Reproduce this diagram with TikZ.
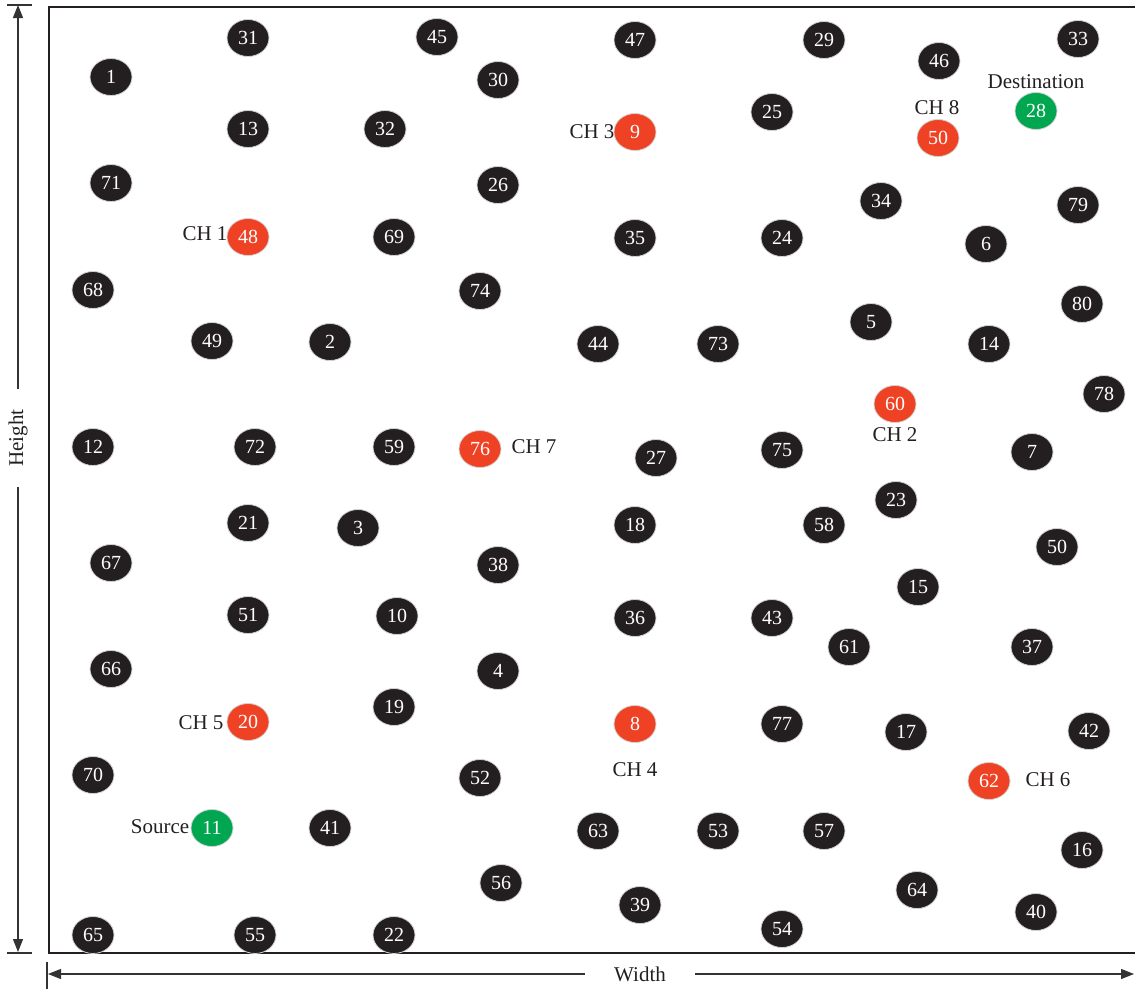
\documentclass[tikz,border=0pt]{standalone}
\usepackage{fontspec}
\setmainfont{Liberation Serif}
\usetikzlibrary{shapes.geometric,arrows.meta}
\definecolor{nblack}{HTML}{231F20}
\definecolor{nred}{HTML}{EF4123}
\definecolor{ngreen}{HTML}{00A650}
\definecolor{axis}{HTML}{333333}
\tikzset{
  nd/.style={ellipse, minimum width=42pt, minimum height=37pt, inner sep=0pt,
    draw=gray!35, line width=0.8pt, text=white, font=\fontsize{20}{23}\selectfont},
  bn/.style={nd, fill=nblack},
  rn/.style={nd, fill=nred},
  gn/.style={nd, fill=ngreen},
  lab/.style={inner sep=0pt, text=nblack, font=\fontsize{21}{24}\selectfont},
  axline/.style={draw=axis, line width=1.2pt},
  tip/.style={-{Triangle[length=13pt,width=10pt]}}
}
\begin{document}
\begin{tikzpicture}[x=1pt,y=-1pt]
\useasboundingbox (0,0) rectangle (1135,989);
% frame
\draw[line width=1.4pt, nblack] (1135,7) -- (49,7) -- (49,953) -- (1135,953);
% height axis
\coordinate (htop) at (18,5);
\coordinate (hbot) at (18,952);
\node[lab, rotate=90] (hlab) at (18,438) {Height};
\draw[axline] (7,5) -- (32,5);
\draw[axline] (7,953) -- (32,953);
\draw[axline, tip] (18,389) -- (htop);
\draw[axline, tip] (18,487) -- (hbot);
% width axis
\coordinate (wl) at (48,974);
\coordinate (wr) at (1134,974);
\node[lab] (wlab) at (640,974) {Width};
\draw[axline] (47,962) -- (47,989);
\draw[axline, tip] (585,974) -- (wl);
\draw[axline, tip] (695,974) -- (wr);
% labels
\node[lab] (l1) at (205,234) {CH 1};
\node[lab] (l2) at (895,435) {CH 2};
\node[lab] (l3) at (592,132) {CH 3};
\node[lab] (l4) at (635,770) {CH 4};
\node[lab] (l5) at (201,723) {CH 5};
\node[lab] (l6) at (1048,780) {CH 6};
\node[lab] (l7) at (534,447) {CH 7};
\node[lab] (l8) at (937,108) {CH 8};
\node[lab] (ldest) at (1036,82) {Destination};
\node[lab] (lsrc) at (160,827) {Source};
% black nodes
\foreach \n/\x/\y in {
31/248/38, 45/437/37, 47/635/40, 29/824/40, 33/1078/39, 46/939/61,
1/111/77, 30/498/80, 13/248/129, 32/385/129, 25/772/112,
71/111/183, 26/498/185, 34/881/201, 79/1078/205,
69/394/237, 35/635/238, 24/782/238, 6/986/244,
68/93/290, 74/480/291, 80/1082/304, 5/871/322,
49/212/341, 2/330/342, 44/598/344, 73/718/344, 14/989/344, 78/1104/394,
12/93/447, 72/255/447, 59/394/447, 27/656/458, 75/782/450, 7/1032/452,
23/896/500, 21/248/523, 3/358/528, 18/635/525, 58/824/525,
67/111/563, 38/498/565, 15/918/587,
51/248/615, 10/397/616, 36/635/618, 43/772/618, 61/849/647, 37/1032/647,
66/111/669, 4/498/671, 19/394/707, 77/782/724, 17/906/732, 42/1089/731,
70/93/775, 52/480/778, 41/330/828, 63/598/831, 53/718/831, 57/824/831,
16/1082/850, 56/501/883, 64/917/890, 39/640/905, 40/1036/912, 54/782/929,
65/93/935, 55/255/935, 22/394/935}
  \node[bn] (n\n) at (\x,\y) {\n};
\node[bn] (n50b) at (1057,547) {50};
% cluster heads
\node[rn] (ch1) at (248,237) {48};
\node[rn] (ch2) at (895,404) {60};
\node[rn] (ch3) at (635,132) {9};
\node[rn] (ch4) at (635,724) {8};
\node[rn] (ch5) at (248,722) {20};
\node[rn] (ch6) at (989,781) {62};
\node[rn] (ch7) at (480,449) {76};
\node[rn] (ch8) at (938,138) {50};
% source and destination
\node[gn] (dest) at (1036,111) {28};
\node[gn] (src) at (212,828) {11};
\end{tikzpicture}
\end{document}
